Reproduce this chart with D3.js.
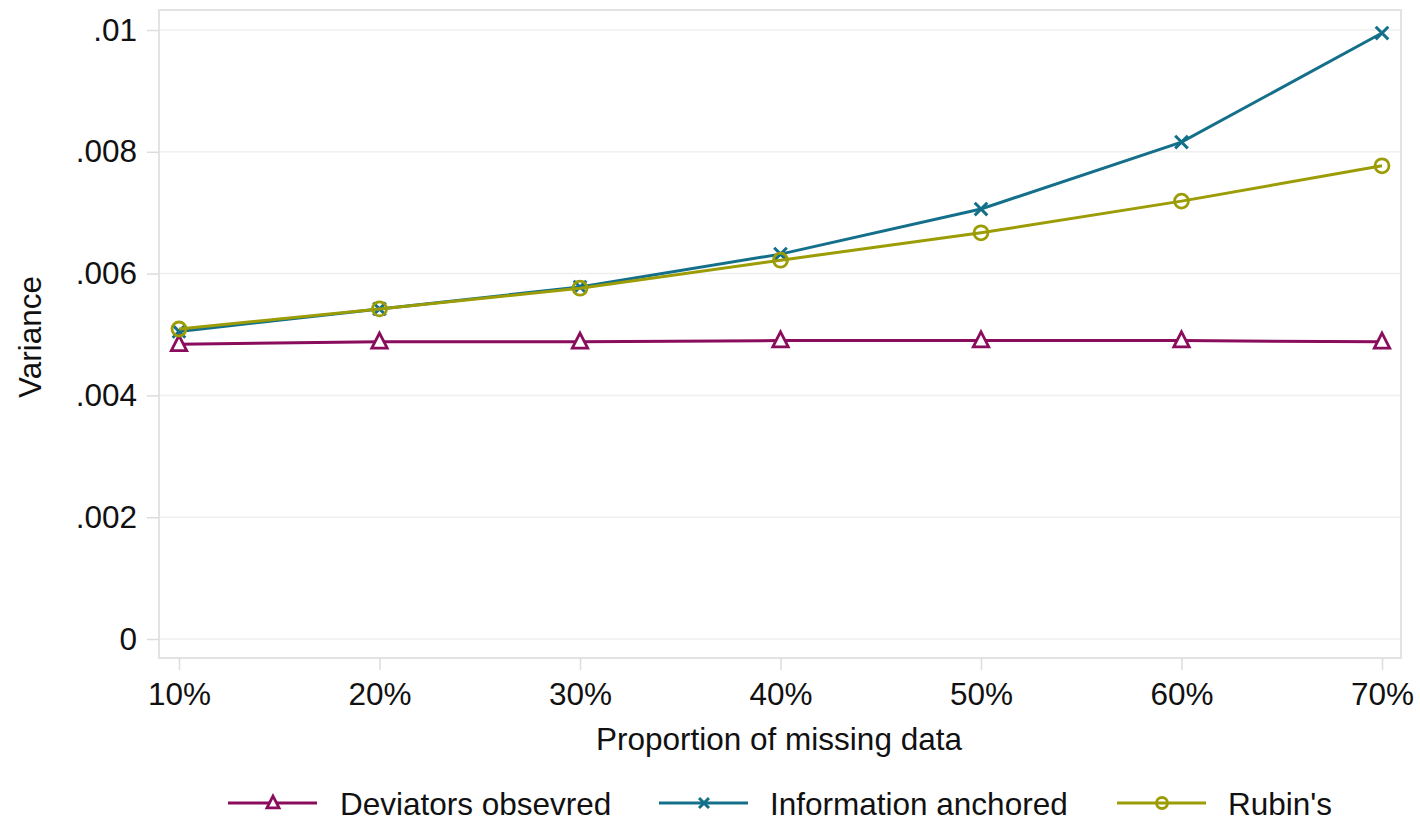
<!DOCTYPE html>
<html>
<head>
<meta charset="utf-8">
<script src="https://cdn.jsdelivr.net/npm/d3@7"></script>
<style>
  html, body { margin: 0; padding: 0; background: #fff; }
  svg { display: block; font-family: "Liberation Sans", Arial, sans-serif; }
</style>
</head>
<body>
<svg id="chart" width="1420" height="822"></svg>
<script>
// Proportion of missing data (x categories)
const proportions = [0.1, 0.2, 0.3, 0.4, 0.5, 0.6, 0.7];
// Variance estimates per method
const deviatorsObserved   = [0.00484, 0.00488, 0.00488, 0.00490, 0.00490, 0.00490, 0.00488];
const informationAnchored = [0.00505, 0.00542, 0.00578, 0.00632, 0.00706, 0.00816, 0.00995];
const rubins              = [0.00509, 0.00542, 0.00576, 0.00622, 0.00667, 0.00719, 0.00777];
// Axis ticks
const yTicks = [0, 0.002, 0.004, 0.006, 0.008, 0.01];
const yTickLabels = ["0", ".002", ".004", ".006", ".008", ".01"];
const xTickLabels = ["10%", "20%", "30%", "40%", "50%", "60%", "70%"];

const series = [
  { name: "Deviators obsevred",  values: deviatorsObserved,   color: "#8a0c5c", marker: "triangle" },
  { name: "Information anchored", values: informationAnchored, color: "#14708a", marker: "cross" },
  { name: "Rubin's",             values: rubins,              color: "#9c9c06", marker: "circle" }
];

const svg = d3.select("#chart");
const frame = { left: 159, right: 1401, top: 10, bottom: 658 };
const FS = 31.5;

const x = d3.scaleLinear().domain([0.1, 0.7]).range([179, 1382]);
const y = d3.scaleLinear().domain([0, 0.01]).range([639, 30]);

// plot region frame
svg.append("rect")
  .attr("x", frame.left).attr("y", frame.top)
  .attr("width", frame.right - frame.left).attr("height", frame.bottom - frame.top)
  .attr("fill", "#fff").attr("stroke", "#e3e3e3").attr("stroke-width", 2);

// horizontal gridlines
svg.append("g").selectAll("line").data(yTicks).join("line")
  .attr("x1", frame.left + 1).attr("x2", frame.right - 1)
  .attr("y1", d => y(d)).attr("y2", d => y(d))
  .attr("stroke", "#efefef").attr("stroke-width", 1.5);

// y axis
const yAxis = d3.axisLeft(y)
  .tickValues(yTicks)
  .tickFormat((d, i) => yTickLabels[i])
  .tickSize(12).tickPadding(10);
const gy = svg.append("g").attr("transform", `translate(${frame.left},0)`).call(yAxis);
gy.select(".domain").remove();
gy.selectAll(".tick line").attr("stroke", "#dcdcdc").attr("stroke-width", 1.5);
gy.selectAll(".tick text").attr("font-size", FS).attr("fill", "#111")
  .attr("font-family", "'Liberation Sans', Arial, sans-serif");

// x axis
const xAxis = d3.axisBottom(x)
  .tickValues(proportions)
  .tickFormat((d, i) => xTickLabels[i])
  .tickSize(12).tickPadding(13);
const gx = svg.append("g").attr("transform", `translate(0,${frame.bottom})`).call(xAxis);
gx.select(".domain").remove();
gx.selectAll(".tick line").attr("stroke", "#dcdcdc").attr("stroke-width", 1.5);
gx.selectAll(".tick text").attr("font-size", FS).attr("fill", "#111")
  .attr("font-family", "'Liberation Sans', Arial, sans-serif");

// axis titles
svg.append("text")
  .attr("transform", "translate(41,337) rotate(-90)")
  .attr("text-anchor", "middle")
  .attr("font-size", FS).attr("fill", "#111")
  .text("Variance");

svg.append("text")
  .attr("x", 779).attr("y", 750)
  .attr("text-anchor", "middle")
  .attr("font-size", FS).attr("fill", "#111")
  .text("Proportion of missing data");

// marker drawing
function drawMarker(g, type, color, cx, cy, s) {
  if (type === "triangle") {
    const h = s * 1.0, w = s * 1.1;
    g.append("path")
      .attr("d", `M${cx},${cy - h * 0.62} L${cx + w / 2},${cy + h * 0.45} L${cx - w / 2},${cy + h * 0.45} Z`)
      .attr("fill", "#fff").attr("stroke", color).attr("stroke-width", 2.8);
  } else if (type === "cross") {
    const r = s * 0.45;
    g.append("path")
      .attr("d", `M${cx - r},${cy - r} L${cx + r},${cy + r} M${cx - r},${cy + r} L${cx + r},${cy - r}`)
      .attr("stroke", color).attr("stroke-width", 3).attr("fill", "none");
  } else {
    g.append("circle").attr("cx", cx).attr("cy", cy).attr("r", s * 0.5)
      .attr("fill", "none").attr("stroke", color).attr("stroke-width", 2.8);
  }
}

const line = d3.line().x((d, i) => x(proportions[i])).y(d => y(d));

series.forEach(s => {
  const g = svg.append("g");
  g.append("path").datum(s.values)
    .attr("d", line)
    .attr("fill", "none").attr("stroke", s.color).attr("stroke-width", 3);
  s.values.forEach((v, i) => drawMarker(g, s.marker, s.color, x(proportions[i]), y(v), 14));
});

// legend
const legendItems = [
  { lx: 228, tx: 340 },
  { lx: 659, tx: 770 },
  { lx: 1117, tx: 1228 }
];
const legendY = 803;
series.forEach((s, i) => {
  const g = svg.append("g");
  const { lx, tx } = legendItems[i];
  g.append("line").attr("x1", lx).attr("x2", lx + 89)
    .attr("y1", legendY).attr("y2", legendY)
    .attr("stroke", s.color).attr("stroke-width", 3);
  drawMarker(g, s.marker, s.color, lx + 45, legendY, 11);
  g.append("text").attr("x", tx).attr("y", legendY + 12)
    .attr("font-size", FS).attr("fill", "#111")
    .text(s.name);
});
</script>
</body>
</html>
